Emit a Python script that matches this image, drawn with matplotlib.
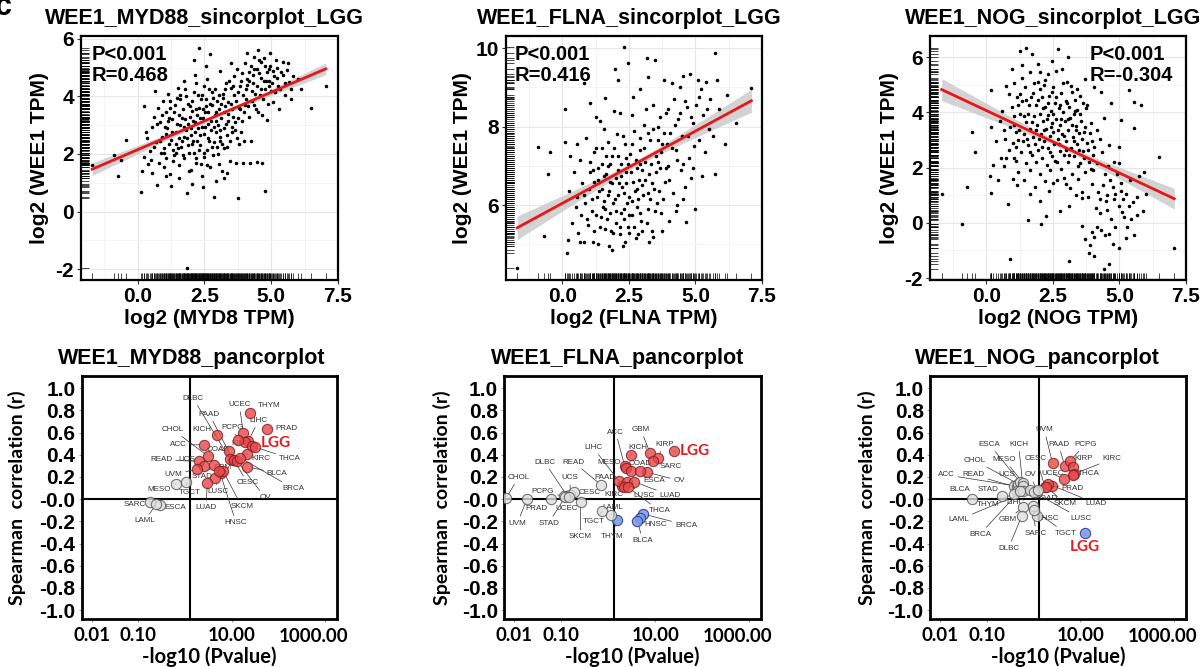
import numpy as np
import matplotlib
matplotlib.use('Agg')
import matplotlib.pyplot as plt
from matplotlib.ticker import FixedLocator, NullLocator
from matplotlib.transforms import blended_transform_factory

plt.rcParams['font.family'] = ['Liberation Sans', 'DejaVu Sans']
plt.rcParams['axes.unicode_minus'] = False

# ------------------------------------------------------------------ data
# single-gene scatter (log2 TPM), LGG
myd88_points = [
(-1.70,1.62),(-0.90,1.95),(-0.75,1.23),(-0.63,1.80),(-0.45,2.49),
(0.11,0.69),(0.15,1.40),(0.22,1.90),(0.25,3.65),(0.30,2.75),(0.35,2.55),(0.40,1.65),(0.45,2.10),(0.50,1.80),(0.55,2.95),(0.60,3.30),(0.65,4.20),(0.70,2.40),(0.74,0.92),(0.78,3.60),(0.80,1.70),(0.85,3.10),(0.88,2.05),(0.90,2.60),(0.95,3.85),(1.00,1.55),(1.00,2.20),(1.05,3.45),(1.08,2.70),(1.10,2.90),(1.15,4.10),(1.18,3.25),(1.20,1.30),(1.22,3.60),(1.25,0.90),(1.25,2.50),(1.30,3.20),(1.32,2.15),(1.35,1.95),(1.40,3.70),(1.42,2.35),(1.45,2.75),(1.48,3.95),(1.50,2.20),(1.50,4.30),(1.55,1.60),(1.55,3.35),(1.60,3.00),(1.60,3.90),(1.65,2.45),(1.68,1.95),(1.70,3.55),(1.72,2.60),(1.75,1.85),(1.78,3.20),(1.80,2.85),(1.80,4.00),(1.85,0.65),(1.86,-1.95),(1.88,3.75),(1.90,2.30),(1.92,1.40),(1.95,3.30),(1.98,2.90),(2.00,1.45),(2.00,2.65),(2.02,3.50),(2.05,3.85),(2.08,2.45),(2.10,5.25),(2.10,2.05),(2.12,4.15),(2.15,3.10),(2.18,1.85),(2.20,4.45),(2.20,1.70),(2.22,3.35),(2.25,2.90),(2.28,2.15),(2.30,5.70),(2.30,3.60),(2.32,2.65),(2.35,2.30),(2.38,3.90),(2.40,1.25),(2.40,4.05),(2.42,2.95),(2.45,3.25),(2.48,4.35),(2.50,2.70),(2.50,1.90),(2.52,3.45),(2.55,3.90),(2.58,1.60),(2.60,2.15),(2.60,4.60),(2.62,3.05),(2.65,3.45),(2.68,2.45),(2.70,5.48),(2.70,1.55),(2.72,3.75),(2.75,2.85),(2.78,4.15),(2.80,3.70),(2.82,1.95),(2.85,0.52),(2.85,2.40),(2.88,3.35),(2.90,4.25),(2.92,2.75),(2.95,1.05),(2.95,3.15),(2.98,3.85),(3.00,2.00),(3.02,3.00),(3.05,3.55),(3.08,2.45),(3.10,4.90),(3.10,2.60),(3.12,3.25),(3.15,1.40),(3.18,4.10),(3.20,3.95),(3.22,2.20),(3.25,2.90),(3.28,3.65),(3.30,4.45),(3.32,3.05),(3.35,2.25),(3.38,3.80),(3.40,3.40),(3.45,1.75),(3.48,4.30),(3.50,5.15),(3.50,3.75),(3.52,2.95),(3.55,2.75),(3.58,3.30),(3.60,4.70),(3.62,4.05),(3.65,3.10),(3.70,1.70),(3.72,2.55),(3.75,0.46),(3.75,4.15),(3.78,3.60),(3.80,2.35),(3.85,3.55),(3.88,4.55),(3.90,4.80),(3.92,3.15),(3.95,1.70),(4.00,2.45),(4.02,3.70),(4.05,3.90),(4.08,4.60),(4.10,5.50),(4.10,4.40),(4.15,3.30),(4.18,4.85),(4.20,1.68),(4.25,2.45),(4.28,4.20),(4.30,4.75),(4.35,5.38),(4.35,3.70),(4.40,4.10),(4.45,1.72),(4.48,4.95),(4.50,5.62),(4.50,3.45),(4.55,4.80),(4.60,4.25),(4.62,5.20),(4.65,1.70),(4.70,3.90),(4.72,4.55),(4.75,0.70),(4.75,5.05),(4.80,4.55),(4.85,3.18),(4.90,4.95),(4.92,4.35),(4.95,5.50),(5.00,4.20),(5.05,3.80),(5.08,4.90),(5.10,4.70),(5.20,5.00),(5.25,4.35),(5.30,3.55),(5.35,4.85),(5.45,5.20),(5.50,4.05),(5.60,4.92),(5.65,4.50),(5.75,3.90),(5.80,4.70),(6.00,4.60),(6.10,4.25),(6.48,3.59),(7.04,4.37)]
myd88_points_core = [
(0.62,2.25),(0.72,3.05),(0.83,2.45),(0.93,3.35),(0.97,2.05),(1.03,2.95),(1.07,1.85),(1.13,3.15),(1.17,2.35),(1.23,3.85),(1.27,2.75),(1.33,1.75),(1.37,3.45),(1.43,2.05),(1.47,3.05),(1.53,2.55),(1.57,4.05),(1.63,2.25),(1.67,3.25),(1.73,2.95),(1.77,4.25),(1.83,2.55),(1.87,3.05),(1.93,2.05),(1.97,3.65),(2.03,2.35),(2.07,3.15),(2.13,2.75),(2.17,3.55),(2.23,2.45),(2.27,4.05),(2.33,3.25),(2.37,1.65),(2.43,3.55),(2.47,2.05),(2.53,2.95),(2.57,3.65),(2.63,2.55),(2.67,4.25),(2.73,3.15),(2.77,2.25),(2.83,3.95),(2.87,2.95),(2.93,3.45),(2.97,2.25),(3.03,4.05),(3.07,2.85),(3.13,3.75),(3.17,2.35),(3.23,3.45),(3.27,4.25),(3.33,2.65),(3.37,3.15),(3.43,4.55),(3.47,2.45),(3.53,3.55),(3.57,4.35),(3.63,2.85),(3.67,3.85),(3.73,4.95),(3.77,3.25),(3.83,4.35),(3.87,2.75),(3.93,4.05),(3.97,3.45),(4.03,5.15),(4.07,4.25),(4.13,3.65),(4.17,4.55),(4.23,5.05),(4.27,3.85),(4.33,4.45),(4.37,4.95),(4.43,3.55),(4.47,4.35),(4.53,5.25),(4.57,4.05),(4.63,4.65),(4.67,3.35),(4.73,5.35),(4.77,4.25),(4.83,4.85),(4.87,3.75),(4.93,4.55),(4.97,5.05),(5.03,4.45),(5.13,4.15),(5.17,5.25),(5.23,4.65),(5.33,4.25),(5.43,4.75),(5.53,4.45),(5.63,5.15),(5.73,4.25),(1.05,1.25),(1.55,1.15),(2.05,0.95),(2.45,0.85),(3.25,1.15),(1.75,4.55),(2.15,4.75),(2.55,5.05),(0.55,1.35),(3.05,1.65),(3.35,1.35)]

flna_points = [
(-1.70,4.39),(-0.91,7.49),(-0.55,6.79),(-0.70,5.22),(-0.45,7.36),(0.11,7.61),(0.11,8.46),(0.17,4.77),(0.20,5.10),(0.25,6.35),(0.30,7.25),(0.35,5.55),(0.45,6.85),(0.50,5.95),(0.55,6.20),(0.60,5.30),(0.65,7.15),(0.70,5.75),(0.75,6.55),(0.80,9.10),(0.80,5.05),(0.85,6.05),(0.90,7.70),(0.95,5.50),(1.00,6.40),(1.05,7.10),(1.05,8.60),(1.10,5.85),(1.15,6.90),(1.20,5.35),(1.20,6.60),(1.25,7.45),(1.30,6.20),(1.35,5.02),(1.35,6.65),(1.40,8.15),(1.45,5.70),(1.50,7.05),(1.50,6.40),(1.55,6.10),(1.60,8.73),(1.60,5.40),(1.60,5.90),(1.65,6.80),(1.70,7.60),(1.70,7.00),(1.75,4.95),(1.75,6.35),(1.80,5.80),(1.80,6.60),(1.85,7.25),(1.90,6.05),(1.90,5.30),(1.95,8.40),(1.98,9.48),(2.00,5.55),(2.00,6.70),(2.05,7.80),(2.10,9.20),(2.10,6.25),(2.10,6.90),(2.15,5.25),(2.20,7.05),(2.20,5.80),(2.25,6.45),(2.27,4.95),(2.30,10.03),(2.30,5.90),(2.30,6.30),(2.35,7.55),(2.40,6.85),(2.40,7.20),(2.45,5.45),(2.48,9.61),(2.50,6.20),(2.50,5.30),(2.55,7.30),(2.60,8.30),(2.60,5.75),(2.60,6.10),(2.65,6.60),(2.70,7.90),(2.75,5.15),(2.80,6.95),(2.80,6.40),(2.85,6.15),(2.90,8.95),(2.90,7.40),(2.90,5.80),(2.90,7.70),(2.95,5.60),(3.00,6.50),(3.00,6.90),(3.05,8.05),(3.10,7.10),(3.17,9.74),(3.20,9.27),(3.20,5.90),(3.20,6.30),(3.25,6.80),(3.30,7.65),(3.35,5.35),(3.40,8.55),(3.42,5.19),(3.45,6.40),(3.48,9.70),(3.50,7.25),(3.55,6.05),(3.60,8.00),(3.60,7.10),(3.65,6.95),(3.70,5.80),(3.75,7.55),(3.80,9.20),(3.85,6.60),(3.90,8.35),(3.95,7.00),(4.00,5.60),(4.05,7.85),(4.10,9.10),(4.15,6.30),(4.20,8.70),(4.25,7.40),(4.30,6.00),(4.35,8.20),(4.40,9.00),(4.45,6.90),(4.50,7.75),(4.55,9.30),(4.60,6.45),(4.66,5.57),(4.70,8.50),(4.75,7.20),(4.80,9.35),(4.85,6.70),(4.90,8.10),(4.95,7.50),(5.00,5.90),(5.10,9.20),(5.15,8.75),(5.25,6.75),(5.30,8.30),(5.40,9.15),(5.50,7.95),(5.55,8.70),(5.65,7.75),(5.73,9.88),(5.75,6.80),(5.80,9.20),(5.90,8.45),(6.10,7.55),(6.20,8.80),(6.54,8.08),(7.10,8.99)]
flna_points_core = [
(0.82,6.25),(0.92,5.65),(1.02,6.85),(1.12,6.15),(1.18,7.35),(1.28,5.75),(1.32,6.95),(1.38,6.35),(1.42,5.45),(1.48,7.45),(1.52,5.95),(1.58,6.75),(1.62,7.25),(1.68,5.65),(1.72,6.25),(1.78,7.05),(1.82,5.35),(1.88,6.55),(1.92,7.45),(1.98,6.15),(2.02,5.85),(2.08,7.25),(2.12,6.55),(2.18,5.45),(2.22,6.75),(2.28,7.75),(2.32,5.65),(2.38,6.55),(2.42,6.05),(2.48,7.05),(2.52,5.75),(2.58,6.85),(2.62,7.55),(2.68,5.45),(2.72,6.35),(2.78,7.15),(2.82,5.95),(2.88,6.65),(2.92,7.05),(2.98,5.35),(3.02,6.25),(3.08,7.45),(3.12,6.65),(3.18,5.55),(3.22,7.85),(3.28,6.15),(3.32,7.05),(3.38,6.55),(3.42,7.95),(3.48,5.85),(3.52,6.85),(3.58,7.65),(3.62,6.35),(3.68,8.25),(3.72,7.35),(3.78,6.15),(3.82,7.85),(3.88,6.95),(3.92,7.55),(3.98,8.45),(4.02,6.65),(4.12,7.45),(4.22,8.05),(4.32,7.15),(4.42,8.35),(4.52,7.05),(4.62,8.65),(4.72,7.75),(4.82,8.25),(4.92,6.95),(5.02,8.55),(5.12,7.65),(5.22,8.95),(5.35,7.35),(5.45,8.45),(1.25,8.25),(1.55,7.95),(2.15,8.35),(2.65,8.75),(3.15,8.45),(0.55,7.55),(0.65,5.05),(1.15,5.05),(1.85,4.85),(2.35,5.05),(2.85,5.25),(3.25,5.05),(3.75,5.35),(4.25,5.85),(4.55,6.15)]

nog_points = [
(-1.68,1.04),(-0.90,-0.05),(-0.74,1.28),(-0.55,3.27),(-0.43,2.55),
(0.15,1.68),(0.19,1.08),(0.19,3.46),(0.19,4.81),(0.25,2.10),(0.35,2.95),(0.45,1.55),(0.50,3.70),(0.55,2.35),(0.60,4.05),(0.65,2.05),(0.70,3.05),(0.75,4.95),(0.81,0.67),(0.85,2.65),(0.90,-1.30),(0.90,3.45),(0.95,4.20),(1.00,1.60),(1.00,2.90),(1.05,3.85),(1.05,5.05),(1.10,2.25),(1.10,3.30),(1.15,4.55),(1.20,1.85),(1.20,3.00),(1.25,6.20),(1.25,3.95),(1.30,2.55),(1.32,5.71),(1.35,4.40),(1.40,1.55),(1.40,3.20),(1.45,4.90),(1.50,6.34),(1.50,2.15),(1.50,3.65),(1.55,2.80),(1.56,0.10),(1.60,4.25),(1.62,5.45),(1.65,1.90),(1.65,3.40),(1.70,6.10),(1.70,2.45),(1.75,4.70),(1.75,3.10),(1.80,3.85),(1.82,1.30),(1.85,2.20),(1.88,4.25),(1.90,3.55),(1.92,5.10),(1.95,2.65),(2.00,0.80),(2.00,5.47),(2.00,3.95),(2.02,1.75),(2.05,3.20),(2.06,-0.05),(2.08,4.55),(2.10,2.35),(2.12,3.70),(2.15,2.95),(2.18,5.00),(2.20,4.20),(2.22,1.50),(2.25,0.26),(2.25,3.40),(2.28,2.10),(2.30,5.40),(2.30,3.90),(2.32,2.70),(2.35,4.60),(2.38,3.15),(2.40,1.90),(2.42,4.05),(2.45,3.60),(2.48,2.40),(2.50,1.45),(2.50,4.90),(2.52,3.30),(2.55,2.85),(2.58,4.35),(2.62,5.50),(2.62,3.75),(2.65,2.20),(2.68,3.05),(2.69,6.28),(2.72,4.15),(2.75,0.44),(2.75,2.60),(2.78,3.55),(2.80,4.70),(2.82,1.95),(2.85,3.20),(2.88,4.00),(2.90,2.45),(2.93,1.63),(2.95,3.70),(2.98,4.40),(3.00,1.40),(3.00,2.95),(3.02,5.10),(3.05,3.35),(3.06,6.00),(3.08,2.20),(3.10,0.60),(3.12,-1.40),(3.12,4.20),(3.15,3.80),(3.18,2.70),(3.20,4.75),(3.22,1.75),(3.25,3.10),(3.28,3.95),(3.30,2.40),(3.32,4.45),(3.35,3.50),(3.37,1.00),(3.40,2.85),(3.42,4.10),(3.45,1.60),(3.48,3.25),(3.50,2.15),(3.52,4.60),(3.55,3.70),(3.58,0.90),(3.60,1.10),(3.60,-0.10),(3.62,2.60),(3.65,3.30),(3.70,5.20),(3.70,-0.60),(3.72,1.85),(3.75,4.15),(3.78,2.90),(3.80,0.95),(3.85,2.20),(3.87,-1.10),(3.90,-0.80),(3.92,3.60),(3.95,1.40),(4.00,1.90),(4.02,2.45),(4.06,2.75),(4.06,-0.50),(4.06,-1.20),(4.06,4.90),(4.10,0.55),(4.15,3.35),(4.20,1.10),(4.25,3.05),(4.25,0.35),(4.30,4.75),(4.30,-0.25),(4.37,1.35),(4.40,-1.68),(4.43,3.78),(4.45,-0.45),(4.50,0.80),(4.55,1.00),(4.58,2.05),(4.60,-1.50),(4.60,-0.40),(4.62,2.80),(4.68,4.33),(4.70,0.15),(4.75,1.30),(4.80,0.85),(4.80,2.20),(4.85,-0.15),(4.90,1.75),(4.98,0.60),(4.98,2.15),(4.98,2.75),(4.98,-0.90),(5.06,1.15),(5.06,3.72),(5.10,0.40),(5.17,0.20),(5.25,1.05),(5.30,-0.15),(5.35,0.60),(5.37,4.80),(5.40,1.55),(5.50,0.75),(5.56,-0.45),(5.56,3.42),(5.56,4.38),(5.65,0.30),(5.75,1.70),(5.81,4.26),(5.87,0.43),(5.93,1.85),(6.00,1.06),(6.47,2.37),(7.06,-0.93)]
nog_points_core = [
(1.02,3.55),(1.12,2.75),(1.18,4.25),(1.22,3.35),(1.28,4.65),(1.38,2.95),(1.42,3.85),(1.48,4.45),(1.52,3.05),(1.58,3.95),(1.62,2.55),(1.68,4.55),(1.72,3.65),(1.78,5.05),(1.82,2.85),(1.88,3.35),(1.92,4.45),(1.98,3.05),(2.02,4.85),(2.08,2.75),(2.12,4.15),(2.18,3.35),(2.22,5.15),(2.28,3.75),(2.32,4.35),(2.38,2.55),(2.42,3.45),(2.48,4.75),(2.52,3.95),(2.58,2.25),(2.62,4.55),(2.68,3.35),(2.72,2.85),(2.78,4.25),(2.82,3.75),(2.88,5.05),(2.92,3.15),(2.98,2.65),(3.02,4.35),(3.08,3.75),(3.12,2.45),(3.18,4.95),(3.22,3.55),(3.28,2.95),(3.32,4.05),(3.38,3.35),(3.42,4.85),(3.48,2.65),(3.52,3.95),(3.58,3.05),(3.62,4.35),(3.68,2.35),(3.72,3.45),(3.78,4.25),(3.82,2.65),(3.88,3.25),(3.92,1.95),(3.98,2.95),(0.85,4.65),(0.95,5.55),(1.35,5.25),(1.95,5.75),(2.45,5.85),(2.85,5.55),(1.15,1.35),(1.65,1.05),(2.35,1.15),(2.65,1.55),(3.15,1.25),(3.45,2.05),(1.05,2.35),(0.65,3.35),(0.75,2.35),(4.15,2.15),(4.35,2.55),(4.45,1.75),(4.65,1.55),(4.25,0.85),(4.85,1.05),(5.15,0.85),(5.45,0.15),(4.55,0.45),(4.15,-0.15),(3.95,-0.35),(5.25,-0.55),(4.75,-0.75),(5.05,1.45),(5.65,0.95)]

# fitted line (intercept, slope) and CI half-widths (at end, at centre)
scatter_fits = {'MYD88': (2.149, 0.399, 0.22, 0.06),
                'FLNA': (6.046, 0.368, 0.30, 0.08),
                'NOG': (4.062, -0.452, 0.40, 0.10)}
scatter_stats = {'MYD88': ('P<0.001', 'R=0.468'),
                 'FLNA': ('P<0.001', 'R=0.416'),
                 'NOG': ('P<0.001', 'R=-0.304')}
scatter_xlabels = {'MYD88': 'log2 (MYD8 TPM)', 'FLNA': 'log2 (FLNA TPM)', 'NOG': 'log2 (NOG TPM)'}
pan_xticks = [0.01, 0.1, 10, 1000]
pan_xticklabels = ['0.01', '0.10', '10.00', '1000.00']

# pan-cancer: cancer -> (-log10 P, spearman r)
myd88_pan = {
 'THYM': (24.7, 0.78), 'PRAD': (56.1, 0.635), 'UCEC': (17.7, 0.60), 'LIHC': (22.7, 0.52),
 'KIRP': (19.3, 0.514), 'LGG': (27.6, 0.475), 'KIRC': (21.0, 0.41), 'THCA': (31.6, 0.47),
 'KICH': (4.77, 0.58), 'PAAD': (10.8, 0.35), 'PCPG': (13.9, 0.53), 'ACC': (2.55, 0.49),
 'CHOL': (3.16, 0.385), 'COAD': (8.9, 0.43), 'DLBC': (9.2, 0.36), 'READ': (2.0, 0.34),
 'UCS': (2.55, 0.30), 'UVM': (1.78, 0.27), 'STAD': (4.25, 0.306), 'GBM': (5.8, 0.234),
 'LUSC': (4.39, 0.19), 'LUAD': (3.0, 0.146), 'SKCM': (6.6, 0.25), 'HNSC': (5.43, 0.258),
 'CESC': (11.2, 0.355), 'OV': (13.2, 0.342), 'BRCA': (15.1, 0.373), 'BLCA': (21.6, 0.291),
 'MESO': (0.64, 0.137), 'TGCT': (1.05, 0.152), 'SARC': (0.178, -0.023), 'ESCA': (0.29, -0.05),
 'LAML': (0.24, -0.044)}

flna_pan = {
 'LGG': (24.7, 0.43), 'GBM': (7.8, 0.415), 'KIRP': (11.2, 0.372), 'SARC': (9.0, 0.348),
 'KICH': (3.0, 0.394), 'ACC': (2.24, 0.297), 'MESO': (2.39, 0.282), 'COAD': (3.0, 0.258),
 'LIHC': (2.0, 0.122), 'OV': (6.6, 0.243), 'ESCA': (4.76, 0.252), 'PAAD': (1.69, 0.167),
 'LUSC': (2.47, 0.152), 'LUAD': (3.55, 0.158), 'KIRC': (2.16, 0.107), 'THCA': (2.64, 0.107),
 'BRCA': (5.6, -0.134), 'HNSC': (4.76, -0.173), 'BLCA': (4.18, -0.195), 'THYM': (1.51, -0.186),
 'CHOL': (0.0067, 0.008), 'UVM': (0.0185, 0.0), 'PRAD': (0.060, 0.0), 'DLBC': (0.132, 0.032),
 'PCPG': (0.112, 0.026), 'UCS': (0.156, 0.038), 'CESC': (0.190, 0.062), 'STAD': (0.122, 0.023),
 'UCEC': (0.144, 0.017), 'SKCM': (0.256, -0.023), 'READ': (0.686, 0.131), 'TGCT': (0.745, -0.11),
 'LAML': (1.16, -0.14)}

nog_pan = {
 'UVM': (2.54, 0.324), 'PAAD': (4.59, 0.303), 'PCPG': (5.87, 0.342), 'KIRP': (6.92, 0.288),
 'KIRC': (7.4, 0.228), 'THCA': (6.92, 0.222), 'UCEC': (4.38, 0.182), 'PRAD': (2.46, 0.122),
 'CESC': (1.77, 0.107), 'LUAD': (2.08, 0.137), 'SKCM': (1.86, 0.113), 'LGG': (12.7, -0.306),
 'BLCA': (0.048, 0.0), 'STAD': (0.209, 0.032), 'ACC': (0.372, 0.122), 'READ': (0.439, 0.107),
 'CHOL': (0.475, 0.137), 'ESCA': (0.516, 0.152), 'MESO': (0.608, 0.143), 'KICH': (0.589, 0.122),
 'UCS': (0.439, 0.077), 'OV': (1.21, 0.062), 'THYM': (0.372, 0.047), 'LIHC': (0.608, 0.077),
 'LAML': (0.845, 0.083), 'BRCA': (0.516, 0.077), 'GBM': (0.589, -0.074), 'DLBC': (0.561, -0.149),
 'SARC': (0.964, -0.059), 'HNSC': (1.17, -0.149), 'TGCT': (1.0, -0.098), 'LUSC': (1.0, 0.062),
 'COAD': (1.23, 0.083)}

# ------------------------------------------------------------------ label layout (log10 x, r)
lab_myd88 = {
 'THYM': (1.805, 0.84), 'PRAD': (2.18, 0.635), 'UCEC': (1.163, 0.85), 'LIHC': (1.57, 0.71),
 'KIRP': (1.19, 0.505), 'LGG': (1.95, 0.505), 'KIRC': (1.62, 0.366), 'THCA': (2.25, 0.366),
 'KICH': (0.357, 0.626), 'PAAD': (0.52, 0.765), 'PCPG': (1.01, 0.645), 'ACC': (-0.14, 0.49),
 'CHOL': (-0.26, 0.626), 'COAD': (0.714, 0.448), 'DLBC': (0.178, 0.906), 'READ': (-0.51, 0.355),
 'UCS': (0.036, 0.355), 'UVM': (-0.25, 0.22), 'STAD': (0.357, 0.206), 'GBM': (0.807, 0.288),
 'LUSC': (0.714, 0.07), 'LUAD': (0.45, -0.074), 'SKCM': (1.214, -0.065), 'HNSC': (1.092, -0.21),
 'CESC': (1.335, 0.146), 'OV': (1.713, 0.016), 'BRCA': (2.32, 0.098), 'BLCA': (1.976, 0.234),
 'MESO': (-0.55, 0.086), 'TGCT': (0.092, 0.062), 'SARC': (-1.086, -0.05), 'ESCA': (-0.214, -0.074),
 'LAML': (-0.857, -0.195)}

lab_flna = {
 'LGG': (1.834, 0.438), 'GBM': (0.692, 0.626), 'KIRP': (1.192, 0.493), 'SARC': (1.32, 0.294),
 'KICH': (0.621, 0.469), 'ACC': (0.157, 0.604), 'MESO': (0.014, 0.333), 'COAD': (0.678, 0.324),
 'LIHC': (-0.321, 0.463), 'OV': (1.513, 0.167), 'ESCA': (0.978, 0.167), 'PAAD': (-0.079, 0.198),
 'LUSC': (0.749, 0.032), 'LUAD': (1.32, 0.032), 'KIRC': (0.121, 0.041), 'THCA': (1.085, -0.104),
 'BRCA': (1.656, -0.234), 'HNSC': (1.014, -0.231), 'BLCA': (0.728, -0.37), 'THYM': (0.086, -0.336),
 'CHOL': (-1.913, 0.198), 'UVM': (-1.934, -0.216), 'PRAD': (-1.535, -0.08), 'DLBC': (-1.356, 0.333),
 'PCPG': (-1.392, 0.068), 'UCS': (-0.821, 0.192), 'CESC': (-0.393, 0.056), 'STAD': (-1.271, -0.216),
 'UCEC': (-0.878, -0.08), 'SKCM': (-0.592, -0.34), 'READ': (-0.735, 0.333), 'TGCT': (-0.307, -0.2),
 'LAML': (0.086, -0.074)}

lab_nog = {
 'UVM': (0.227, 0.626), 'PAAD': (0.533, 0.493), 'PCPG': (1.104, 0.493), 'KIRP': (1.069, 0.363),
 'KIRC': (1.676, 0.363), 'THCA': (1.176, 0.228), 'UCEC': (0.412, 0.228), 'PRAD': (0.84, 0.092),
 'CESC': (0.055, 0.363), 'LUAD': (1.333, -0.038), 'SKCM': (0.675, -0.038), 'LGG': (1.104, -0.43),
 'BLCA': (-1.584, 0.083), 'STAD': (-0.979, 0.083), 'ACC': (-1.87, 0.219), 'READ': (-1.286, 0.219),
 'CHOL': (-1.265, 0.348), 'ESCA': (-0.943, 0.493), 'MESO': (-0.622, 0.354), 'KICH': (-0.322, 0.493),
 'UCS': (-0.572, 0.219), 'OV': (-0.073, 0.219), 'THYM': (-0.965, -0.05), 'LIHC': (-0.394, -0.029),
 'LAML': (-1.606, -0.186), 'BRCA': (-1.143, -0.315), 'GBM': (-0.558, -0.186), 'DLBC': (-0.537, -0.442),
 'SARC': (0.048, -0.306), 'HNSC': (0.298, -0.174), 'TGCT': (0.69, -0.306), 'LUSC': (1.012, -0.174),
 'COAD': (0.27, 0.002)}

# ------------------------------------------------------------------ figure
W, H = 1203, 667
fig = plt.figure(figsize=(W / 100, H / 100), dpi=100)
fig.patch.set_facecolor('white')


def fax(l, t, r, b):
    return fig.add_axes([l / W, 1 - b / H, (r - l) / W, (b - t) / H])


fig.text(-0.004, 1.012, 'c', fontsize=22, fontweight='bold', va='top', ha='left')

top_axes = [fax(81, 36, 338, 280), fax(506, 36, 762, 280), fax(930, 36, 1186, 280)]
top_specs = [('MYD88', myd88_points + myd88_points_core, (-2.38, 6.1), [-2, 0, 2, 4, 6], 0.043, -0.125),
             ('FLNA', flna_points + flna_points_core, (4.09, 10.31), [6, 8, 10], 0.035, -0.133),
             ('NOG', nog_points + nog_points_core, (-2.07, 6.76), [-2, 0, 2, 4, 6], 0.625, -0.121)]

for ax, (gene, pts, ylim, yt, tx, ylab_x) in zip(top_axes, top_specs):
    pts = np.array(pts)
    x, y = pts[:, 0], pts[:, 1]
    ax.set_xlim(-2.12, 7.5)
    ax.set_ylim(*ylim)
    ax.set_xticks([0, 2.5, 5.0, 7.5])
    ax.set_xticklabels(['0.0', '2.5', '5.0', '7.5'])
    ax.set_yticks(yt)
    ax.set_xticks([-1.25, 1.25, 3.75, 6.25], minor=True)
    step = yt[1] - yt[0]
    ax.set_yticks([v + step / 2 for v in [yt[0] - step] + yt if ylim[0] < v + step / 2 < ylim[1]], minor=True)
    ax.grid(True, which='major', color='#e6e6e6', lw=0.8)
    ax.grid(True, which='minor', color='#f3f3f3', lw=0.6)
    ax.set_axisbelow(True)
    ax.tick_params(which='minor', length=0)
    ax.tick_params(which='major', length=3, width=0.8, color='#333333', labelsize=15, pad=2)
    for lab in ax.get_xticklabels() + ax.get_yticklabels():
        lab.set_fontweight('bold')
    for s in ax.spines.values():
        s.set_linewidth(1.6)
        s.set_color('black')
    # fit + CI band
    a, b, hw_end, hw_mid = scatter_fits[gene]
    xs = np.linspace(x.min(), x.max(), 200)
    xm = x.mean()
    span = max(xm - x.min(), x.max() - xm)
    hw = np.sqrt(hw_mid ** 2 + (hw_end ** 2 - hw_mid ** 2) * ((xs - xm) / span) ** 2)
    ax.fill_between(xs, a + b * xs - hw, a + b * xs + hw, color='#c8c8c8', alpha=0.8, lw=0, zorder=2)
    ax.scatter(x, y, s=6.5, color='black', lw=0, zorder=3)
    ax.plot(xs, a + b * xs, color='#e8161b', lw=2.0, zorder=4)
    # rugs
    ax.vlines(x, 0, 0.03, transform=ax.get_xaxis_transform(), colors='black', lw=0.5, zorder=3)
    ax.hlines(y, 0, 0.03, transform=ax.get_yaxis_transform(), colors='black', lw=0.5, zorder=3)
    p_txt, r_txt = scatter_stats[gene]
    ax.text(tx, 0.926, p_txt, transform=ax.transAxes, fontsize=14.5, fontweight='bold', ha='left', va='center', zorder=5)
    ax.text(tx, 0.840, r_txt, transform=ax.transAxes, fontsize=14.5, fontweight='bold', ha='left', va='center', zorder=5)
    ax.set_xlabel(scatter_xlabels[gene], fontsize=15, fontweight='bold')
    ax.xaxis.set_label_coords(0.5, -0.12)
    ax.set_ylabel('log2 (WEE1 TPM)', fontsize=15, fontweight='bold')
    ax.yaxis.set_label_coords(ylab_x, 0.5)
    ax.text(0.48, 1.073, f'WEE1_{gene}_sincorplot_LGG', transform=ax.transAxes,
            fontsize=15.5, fontweight='bold', ha='center', va='center')

# ------------------------------------------------------------------ pan-cancer panels
bot_axes = [fax(81.7, 376, 336.7, 619), fax(504.3, 376, 761, 619), fax(930, 376, 1185.7, 619)]
bot_specs = [('MYD88', myd88_pan, lab_myd88, 0.43, -0.218),
             ('FLNA', flna_pan, lab_flna, 0.44, -0.208),
             ('NOG', nog_pan, lab_nog, 0.42, -0.21)]
SIG = -np.log10(0.05)
LATO = ['Lato', 'DejaVu Sans']

for ax, (gene, pan, labs, tx, ylx) in zip(bot_axes, bot_specs):
    ax.set_xscale('log')
    ax.set_xlim(10 ** -2.214, 10 ** 3.25)
    ax.set_ylim(-1.08, 1.11)
    ax.xaxis.set_major_locator(FixedLocator(pan_xticks))
    ax.xaxis.set_minor_locator(NullLocator())
    ax.set_xticklabels(pan_xticklabels[:-1] + [''])
    # the last label sits shifted left, inside the frame, as in the figure
    bt = blended_transform_factory(ax.transData, ax.transAxes)
    ax.text(pan_xticks[-1] * 10 ** (-0.25), -0.07, pan_xticklabels[-1], transform=bt, family=LATO,
            fontweight='bold', fontsize=13.5, ha='center', va='center')
    for lab in ax.get_xticklabels():
        lab.set_family(LATO)
        lab.set_fontweight('bold')
        lab.set_fontsize(13.5)
    yt = np.round(np.arange(-1.0, 1.01, 0.2), 1)
    ax.set_yticks(yt)
    ax.set_yticklabels([f'{v:.1f}' for v in yt], fontweight='bold', fontsize=15)
    ax.tick_params(length=2.5, width=0.6, color='#888888', pad=2)
    ax.tick_params(axis='x', pad=3.5)
    for s in ax.spines.values():
        s.set_linewidth(2.0)
        s.set_color('black')
    ax.axhline(0, color='black', lw=1.5, zorder=1)
    ax.axvline(SIG, color='black', lw=1.5, zorder=1)
    for name, (px, r) in pan.items():
        if px > SIG and r > 0:
            fc, ec, al = '#e8474a', '#7a1f1f', 0.8
        elif px > SIG and r < 0:
            fc, ec, al = '#7d9be6', '#2a3f8f', 0.9
        else:
            fc, ec, al = '#dedede', '#555555', 0.8
        lx, ly = labs[name]
        if name == 'LGG':
            ax.annotate(name, xy=(px, r), xytext=(10 ** lx, ly), textcoords='data',
                        fontsize=11, fontweight='bold', color='#e41a1c', family=LATO,
                        ha='center', va='center', zorder=2,
                        arrowprops=dict(arrowstyle='-', color='#333333', lw=0.6, shrinkA=1, shrinkB=3))
        else:
            ax.annotate(name, xy=(px, r), xytext=(10 ** lx, ly), textcoords='data',
                        fontsize=5.8, color='#333333', ha='center', va='center', zorder=2,
                        arrowprops=dict(arrowstyle='-', color='#333333', lw=0.5, shrinkA=0.5, shrinkB=3))
        ax.scatter([px], [r], s=55, facecolor=fc, edgecolor=ec, lw=0.8, alpha=al, zorder=3)
    ax.set_xlabel('-log10 (Pvalue)', family=LATO, fontweight='bold', fontsize=14.5)
    ax.xaxis.set_label_coords(0.5, -0.112)
    ax.set_ylabel('Spearman  correlation (r)', family=LATO, fontweight='bold', fontsize=14)
    ax.yaxis.set_label_coords(ylx, 0.5)
    ax.text(tx, 1.074, f'WEE1_{gene}_pancorplot', transform=ax.transAxes,
            fontsize=15.5, fontweight='bold', ha='center', va='center')

fig.savefig('out.png', dpi=100, facecolor='white')
